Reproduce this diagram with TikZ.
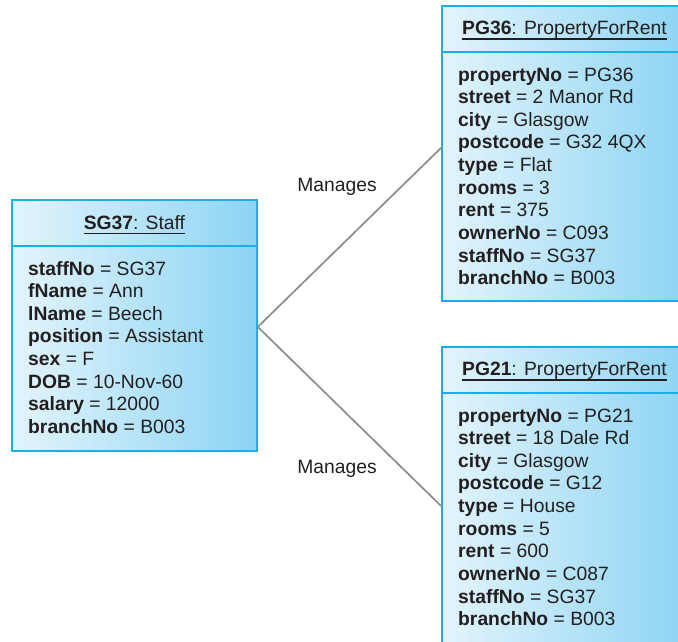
\documentclass[tikz,border=0pt]{standalone}
\usepackage{fontspec}
\setmainfont{Liberation Sans}
\usetikzlibrary{calc}
\definecolor{boxline}{HTML}{1DAEE8}
\definecolor{boxleft}{HTML}{E3F4FC}
\definecolor{boxright}{HTML}{8CD4F3}
\definecolor{txt}{HTML}{231F20}
\definecolor{conn}{HTML}{8C8C8C}
\tikzset{
  objbox/.style={draw=boxline, line width=1.8pt, left color=boxleft, right color=boxright, inner sep=0, anchor=north west},
  divider/.style={draw=boxline, line width=1.8pt},
  hdr/.style={inner sep=0, text=txt, anchor=base, font=\fontsize{19.3}{22.65}\selectfont},
  attr/.style={inner sep=0, text=txt, anchor=base west, font=\fontsize{19.3}{22.65}\selectfont},
  lbl/.style={inner sep=0, text=txt, font=\fontsize{19.3}{22.65}\selectfont},
  uline/.style={draw=txt, line width=1.1pt},
  connector/.style={draw=conn, line width=1.7pt}
}
\begin{document}
\begin{tikzpicture}[x=1pt,y=-1pt]
\useasboundingbox (0,0) rectangle (678,641);
\clip (0,0) rectangle (678,641);

% Staff box
\node[objbox, minimum width=245pt, minimum height=251pt] (staff) at (11,199) {};
\draw[divider] ($(staff.north west)+(0,47)$) -- ($(staff.north east)+(0,47)$);
\node[hdr] (staffhdr) at ($(staff.north)+(0,30)$) {\textbf{SG37}: Staff};
\draw[uline] ([yshift=-4.5pt]staffhdr.base west) -- ([yshift=-4.5pt]staffhdr.base east);
\foreach[count=\i] \k/\v in {staffNo/SG37, fName/Ann, lName/Beech, position/Assistant, sex/F, DOB/10-Nov-60, salary/12000, branchNo/B003}
  \node[attr] (staffattr\i) at ($(staff.north west)+(17,{76+22.65*(\i-1)})$) {\textbf{\k} = \v};

% PG36 box
\node[objbox, minimum width=247pt, minimum height=295pt] (pg36) at (441,5) {};
\draw[divider] ($(pg36.north west)+(0,47)$) -- ($(pg36.north east)+(0,47)$);
\node[hdr] (pg36hdr) at ($(pg36.north)+(-1,29.5)$) {\textbf{PG36}: PropertyForRent};
\draw[uline] ([yshift=-4.5pt]pg36hdr.base west) -- ([yshift=-4.5pt]pg36hdr.base east);
\foreach[count=\i] \k/\v in {propertyNo/PG36, street/2 Manor Rd, city/Glasgow, postcode/G32 4QX, type/Flat, rooms/3, rent/375, ownerNo/C093, staffNo/SG37, branchNo/B003}
  \node[attr] (pg36attr\i) at ($(pg36.north west)+(17,{76+22.65*(\i-1)})$) {\textbf{\k} = \v};

% PG21 box
\node[objbox, minimum width=247pt, minimum height=318pt] (pg21) at (441,346) {};
\draw[divider] ($(pg21.north west)+(0,47)$) -- ($(pg21.north east)+(0,47)$);
\node[hdr] (pg21hdr) at ($(pg21.north)+(-1,29.5)$) {\textbf{PG21}: PropertyForRent};
\draw[uline] ([yshift=-4.5pt]pg21hdr.base west) -- ([yshift=-4.5pt]pg21hdr.base east);
\foreach[count=\i] \k/\v in {propertyNo/PG21, street/18 Dale Rd, city/Glasgow, postcode/G12, type/House, rooms/5, rent/600, ownerNo/C087, staffNo/SG37, branchNo/B003}
  \node[attr] (pg21attr\i) at ($(pg21.north west)+(17,{76+22.65*(\i-1)})$) {\textbf{\k} = \v};

% connectors
\draw[connector] ([yshift=-1.5pt]staff.east) -- ([yshift=5.5pt]pg36.west);
\draw[connector] ([yshift=-1.5pt]staff.east) -- (pg21.west);
\node[lbl] (m1) at (337,187) {Manages};
\node[lbl] (m2) at (337,469) {Manages};
\end{tikzpicture}
\end{document}
